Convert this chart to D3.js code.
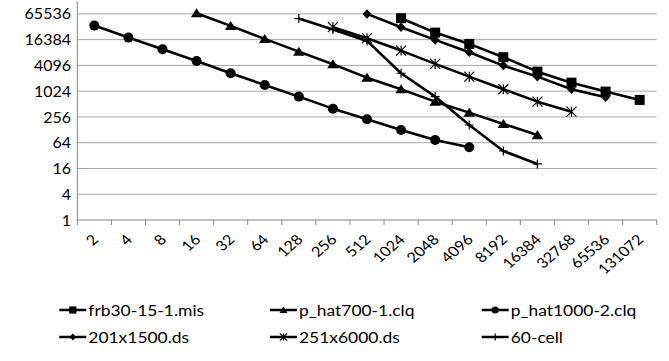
<!DOCTYPE html>
<html>
<head>
<meta charset="utf-8">
<script src="https://cdn.jsdelivr.net/npm/d3@7"></script>
<style>
  body { margin: 0; background: #fff; }
  text { font-family: Lato, "Open Sans", sans-serif; fill: #000; }
</style>
</head>
<body>
<div id="chart"></div>
<script>
const width = 669;
const height = 361;

// x categories (log2 steps) and y tick values (log4 steps)
const categories = ["2", "4", "8", "16", "32", "64", "128", "256", "512", "1024",
  "2048", "4096", "8192", "16384", "32768", "65536", "131072"];
const yTicks = [1, 4, 16, 64, 256, 1024, 4096, 16384, 65536];

// series values, one per category (null = no point)
const frb30 = [null, null, null, null, null, null, null, null, null,
  51970, 23950, 13030, 6370, 2930, 1620, 1000, 640];
const phat700 = [null, null, null, 68000, 34400, 17060, 8610, 4370, 2120,
  1138, 583, 323, 176, 97, null, null, null];
const phat1000 = [34900, 18300, 9800, 5200, 2690, 1430, 764, 400, 226,
  127, 74, 50, null, null, null, null, null];
const ds201 = [null, null, null, null, null, null, null, null, 65536,
  32030, 16170, 8340, 4050, 2240, 1138, 740, null];
const ds251 = [null, null, null, null, null, null, null, 32030, 17720,
  9090, 4440, 2240, 1138, 583, 340, null, null];
const cell60 = [null, null, null, null, null, null, 50880, 28450, 15320,
  2690, 764, 166, 41, 20.4, null, null, null];

const seriesNames = ["frb30-15-1.mis", "p_hat700-1.clq", "p_hat1000-2.clq",
  "201x1500.ds", "251x6000.ds", "60-cell"];
const seriesValues = [frb30, phat700, phat1000, ds201, ds251, cell60];
const seriesMarkers = ["square", "triangle", "circle", "diamond", "asterisk", "plus"];

const plot = { left: 77.3, right: 656.7, top: 1, bottom: 220 };

const svg = d3.select("#chart").append("svg")
  .attr("width", width)
  .attr("height", height);

const x = d3.scaleBand().domain(categories).range([plot.left, plot.right]).padding(0);
const y = d3.scaleLog().base(4).domain([1, 131072]).range([plot.bottom, plot.top]);

// gridlines
svg.append("g")
  .selectAll("line")
  .data(yTicks.slice(1))
  .enter().append("line")
  .attr("x1", plot.left).attr("x2", plot.right)
  .attr("y1", d => y(d)).attr("y2", d => y(d))
  .attr("stroke", "#a6a6a6")
  .attr("stroke-width", 1);

// axes lines
svg.append("line")
  .attr("x1", plot.left).attr("x2", plot.left)
  .attr("y1", plot.top).attr("y2", plot.bottom)
  .attr("stroke", "#868686");
svg.append("line")
  .attr("x1", plot.left).attr("x2", plot.right)
  .attr("y1", plot.bottom).attr("y2", plot.bottom)
  .attr("stroke", "#868686");

// x ticks at band edges
const edges = categories.map(c => x(c)).concat([plot.right]);
svg.append("g")
  .selectAll("line")
  .data(edges)
  .enter().append("line")
  .attr("x1", d => d).attr("x2", d => d)
  .attr("y1", plot.bottom).attr("y2", plot.bottom + 5)
  .attr("stroke", "#868686");

// y labels
svg.append("g")
  .selectAll("text")
  .data(yTicks)
  .enter().append("text")
  .attr("x", 71)
  .attr("y", d => y(d))
  .attr("text-anchor", "end")
  .attr("dy", "0.35em")
  .attr("font-size", "16px")
  .text(d => d);

// x labels, rotated (picture is stretched horizontally, so scale then rotate)
svg.append("g")
  .selectAll("text")
  .data(categories)
  .enter().append("text")
  .attr("transform", d => `translate(${x(d) + x.bandwidth() / 2 + 1},${plot.bottom + 17}) scale(1.16,1) rotate(-45)`)
  .attr("text-anchor", "end")
  .attr("dy", "0.35em")
  .attr("font-size", "14px")
  .text(d => d);

function drawMarker(g, type, s) {
  // s = half size
  if (type === "square") {
    g.append("rect").attr("x", -s).attr("y", -s).attr("width", 2 * s).attr("height", 2 * s).attr("fill", "#000");
  } else if (type === "triangle") {
    g.append("path").attr("d", `M0,${-s * 0.95}L${s * 1.1},${s * 0.8}L${-s * 1.1},${s * 0.8}Z`).attr("fill", "#000");
  } else if (type === "circle") {
    g.append("circle").attr("r", s).attr("fill", "#000");
  } else if (type === "diamond") {
    g.append("path").attr("d", `M0,${-s * 0.95}L${s * 0.9},0L0,${s * 0.95}L${-s * 0.9},0Z`).attr("fill", "#000");
  } else if (type === "asterisk") {
    g.append("path")
      .attr("d", `M${-s},${-s}L${s},${s}M${-s},${s}L${s},${-s}M0,${-s}L0,${s}`)
      .attr("stroke", "#000").attr("stroke-width", 1.2).attr("fill", "none");
  } else if (type === "plus") {
    g.append("path")
      .attr("d", `M${-s},0L${s},0M0,${-s}L0,${s}`)
      .attr("stroke", "#000").attr("stroke-width", 1.2).attr("fill", "none");
  }
}

const markerSize = { square: 5, triangle: 5.2, circle: 5, diamond: 5, asterisk: 5, plus: 4.5 };

const line = d3.line()
  .defined(d => d.v != null)
  .x(d => x(d.c) + x.bandwidth() / 2)
  .y(d => y(d.v));

seriesValues.forEach((vals, i) => {
  const pts = vals.map((v, j) => ({ c: categories[j], v: v }));
  const g = svg.append("g");
  g.append("path")
    .datum(pts)
    .attr("d", line)
    .attr("fill", "none")
    .attr("stroke", "#000")
    .attr("stroke-width", 2.6)
    .attr("stroke-linejoin", "round");
  pts.filter(d => d.v != null).forEach(d => {
    const m = g.append("g")
      .attr("transform", `translate(${x(d.c) + x.bandwidth() / 2},${y(d.v)})`);
    drawMarker(m, seriesMarkers[i], markerSize[seriesMarkers[i]]);
  });
});

// legend, 3 columns x 2 rows
const legendCols = [59.3, 270, 481.7];
const legendRows = [310, 337];
seriesNames.forEach((name, i) => {
  const lx = legendCols[i % 3];
  const ly = legendRows[Math.floor(i / 3)];
  const g = svg.append("g");
  g.append("line")
    .attr("x1", lx).attr("x2", lx + 27)
    .attr("y1", ly).attr("y2", ly)
    .attr("stroke", "#000").attr("stroke-width", 2.5);
  const m = g.append("g").attr("transform", `translate(${lx + 13.5},${ly})`);
  drawMarker(m, seriesMarkers[i], 3.6);
  g.append("text")
    .attr("transform", `translate(${lx + 29},${ly}) scale(1.09,1)`)
    .attr("dy", "0.35em")
    .attr("font-size", "16px")
    .text(name);
});
</script>
</body>
</html>
